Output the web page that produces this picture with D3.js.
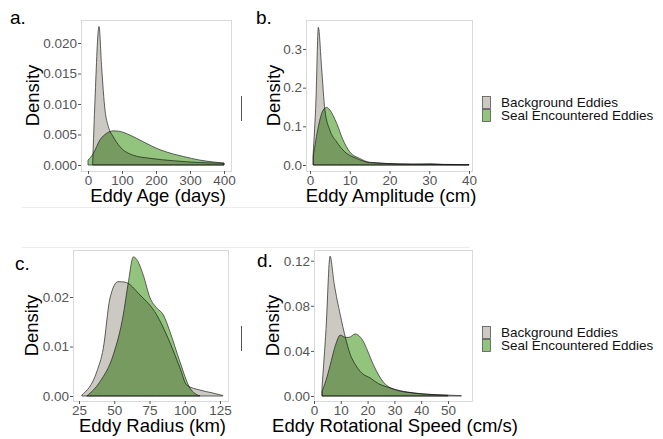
<!DOCTYPE html>
<html>
<head>
<meta charset="utf-8">
<script src="https://cdn.jsdelivr.net/npm/d3@7"></script>
<style>
  body { margin: 0; background: #fff; }
  svg { display: block; font-family: "Liberation Sans", Arial, sans-serif; }
  .tick text { fill: #555; font-size: 13.5px; }
  .tick line { stroke: #555; }
  .domain { display: none; }
  .seal { mix-blend-mode: multiply; }
</style>
</head>
<body>
<div id="chart"></div>
<script>
// (density curves, x value + density)
const ageX        = [13.7, 20.6, 32.4, 40, 50, 59.8, 74.4, 94, 133, 182, 251, 329, 400];
const ageBack     = [0.0002, 0.0107, 0.0227, 0.0161, 0.009, 0.0063, 0.0046, 0.003, 0.0016, 0.0011, 0.0007, 0.0004, 0.0003];
const ageSealX    = [0, 15.7, 35, 55, 74, 94, 123.5, 162.6, 211.8, 251, 280, 329, 368, 400];
const ageSeal     = [0.0008, 0.0019, 0.0041, 0.0052, 0.0056, 0.0055, 0.0049, 0.0038, 0.0025, 0.0018, 0.0014, 0.0008, 0.0005, 0.0003];

const ampX        = [0.8, 1.5, 2.1, 2.9, 3.75, 5, 6.7, 8.75, 11.7, 15, 21.7, 30, 40];
const ampBack     = [0.03, 0.168, 0.356, 0.254, 0.142, 0.09, 0.06, 0.034, 0.017, 0.006, 0.003, 0.002, 0.001];
const ampSealX    = [0.8, 2.1, 3.3, 4.2, 5, 6.7, 8.3, 10, 12.5, 15, 16.7, 19.2, 25.8, 30.4, 34, 40];
const ampSeal     = [0.021, 0.099, 0.142, 0.149, 0.142, 0.108, 0.065, 0.034, 0.017, 0.007, 0.006, 0.004, 0.002, 0.003, 0.001, 0.0005];

const radX        = [27, 37.6, 42.2, 47, 52.7, 57.6, 68.3, 80.1, 87.2, 96.6, 101.4, 110.8, 120, 127];
const radBack     = [0.0002, 0.0049, 0.0096, 0.0198, 0.0231, 0.023, 0.0204, 0.0164, 0.0123, 0.0057, 0.0022, 0.0012, 0.0006, 0.0001];
const radSealX    = [30.5, 39.9, 49.3, 56.4, 60, 63.5, 65.9, 70.6, 75.4, 80.1, 84.8, 89.5, 96.6, 103.7, 110.8];
const radSeal     = [0, 0.0029, 0.0083, 0.0164, 0.023, 0.0281, 0.0276, 0.0244, 0.0198, 0.0178, 0.0164, 0.013, 0.0069, 0.0016, 0];

const rotX        = [3, 4.5, 6, 7.5, 9.8, 11.7, 13.5, 15.4, 18, 21, 24, 27.3, 33.5, 40, 48, 55];
const rotBack     = [0.008, 0.06, 0.124, 0.1, 0.072, 0.052, 0.037, 0.028, 0.02, 0.016, 0.011, 0.008, 0.004, 0.002, 0.001, 0.0003];
const rotSealX    = [3, 4.5, 6, 8, 9.8, 11.7, 13, 15.4, 17, 18.5, 20, 22.3, 26, 31, 36, 42, 50];
const rotSeal     = [0.004, 0.014, 0.027, 0.045, 0.054, 0.052, 0.052, 0.055, 0.053, 0.048, 0.04, 0.027, 0.012, 0.005, 0.003, 0.0015, 0.0005];

const legendLabels = ["Background Eddies", "Seal Encountered Eddies"];
const fillBack = "#ccc9c3", fillSeal = "#93c47e";

const width = 663, height = 439;

const panels = [
  { tag: "a.", title: "Eddy Age (days)", box: [81, 20, 231, 171],
    xDom: [0, 400], xRng: [88, 224], xTicks: [0, 100, 200, 300, 400],
    yDom: [0, 0.02], yRng: [165, 43], yTicks: [0, 0.005, 0.01, 0.015, 0.02], yFmt: ".3f",
    back: [ageX, ageBack], seal: [ageSealX, ageSeal], tagPos: [10, 24], yTitleX: 39 },
  { tag: "b.", title: "Eddy Amplitude (cm)", box: [306, 20, 472, 171],
    xDom: [0, 40], xRng: [310, 469], xTicks: [0, 10, 20, 30, 40],
    yDom: [0, 0.3], yRng: [165, 49], yTicks: [0, 0.1, 0.2, 0.3], yFmt: ".1f",
    back: [ampX, ampBack], seal: [ampSealX, ampSeal], tagPos: [256, 24], yTitleX: 280 },
  { tag: "c.", title: "Eddy Radius (km)", box: [73, 250, 228, 401],
    xDom: [25, 125], xRng: [79, 220], xTicks: [25, 50, 75, 100, 125],
    yDom: [0, 0.02], yRng: [396, 297], yTicks: [0, 0.01, 0.02], yFmt: ".2f",
    back: [radX, radBack], seal: [radSealX, radSeal], tagPos: [15, 270], yTitleX: 38 },
  { tag: "d.", title: "Eddy Rotational Speed (cm/s)", box: [314, 250, 472, 401],
    xDom: [0, 50], xRng: [314, 448], xTicks: [0, 10, 20, 30, 40, 50],
    yDom: [0, 0.12], yRng: [396, 260.7], yTicks: [0, 0.04, 0.08, 0.12], yFmt: ".2f",
    back: [rotX, rotBack], seal: [rotSealX, rotSeal], tagPos: [257, 267], yTitleX: 279 }
];

const svg = d3.select("#chart").append("svg")
  .attr("width", width)
  .attr("height", height);

// faint separators from the original figure
svg.append("line").attr("x1", 22).attr("x2", 470).attr("y1", 207.5).attr("y2", 207.5)
  .attr("stroke", "#ececec");
svg.append("line").attr("x1", 22).attr("x2", 470).attr("y1", 247.5).attr("y2", 247.5)
  .attr("stroke", "#ececec");

panels.forEach(p => {
  const [x0, y0, x1, y1] = p.box;
  const x = d3.scaleLinear().domain(p.xDom).range(p.xRng);
  const y = d3.scaleLinear().domain(p.yDom).range(p.yRng);
  const g = svg.append("g");

  const clipId = "clip" + p.tag[0];
  g.append("clipPath").attr("id", clipId)
    .append("rect").attr("x", x0).attr("y", y0).attr("width", x1 - x0).attr("height", y1 - y0);

  const area = d3.area()
    .x(d => x(d[0]))
    .y0(y(0))
    .y1(d => y(d[1]))
    .curve(d3.curveMonotoneX);

  const plot = g.append("g").attr("clip-path", `url(#${clipId})`);
  plot.append("path")
    .datum(d3.zip(p.back[0], p.back[1]))
    .attr("d", area)
    .attr("fill", fillBack)
    .attr("stroke", "#3a3a3a")
    .attr("stroke-width", 0.8);
  plot.append("path")
    .attr("class", "seal")
    .datum(d3.zip(p.seal[0], p.seal[1]))
    .attr("d", area)
    .attr("fill", fillSeal)
    .attr("stroke", "#3a3a3a")
    .attr("stroke-width", 0.8);

  // panel border
  g.append("rect")
    .attr("x", x0 + 0.5).attr("y", y0 + 0.5)
    .attr("width", x1 - x0).attr("height", y1 - y0)
    .attr("fill", "none").attr("stroke", "#d9d9d9");

  g.append("g")
    .attr("transform", `translate(0,${y1})`)
    .call(d3.axisBottom(x).tickValues(p.xTicks).tickSize(3).tickPadding(1).tickFormat(d3.format("d")));
  g.append("g")
    .attr("transform", `translate(${x0},0)`)
    .call(d3.axisLeft(y).tickValues(p.yTicks).tickSize(3).tickPadding(1).tickFormat(d3.format(p.yFmt)));

  g.append("text")
    .attr("x", (x0 + x1) / 2 + 2)
    .attr("y", y1 + 31)
    .attr("text-anchor", "middle")
    .attr("font-size", 18.5)
    .attr("fill", "#000")
    .text(p.title);

  g.append("text")
    .attr("transform", `translate(${p.yTitleX},${(y0 + y1) / 2})rotate(-90)`)
    .attr("text-anchor", "middle")
    .attr("font-size", 18.5)
    .attr("fill", "#000")
    .text("Density");

  g.append("text")
    .attr("x", p.tagPos[0])
    .attr("y", p.tagPos[1])
    .attr("font-size", 19)
    .attr("fill", "#000")
    .text(p.tag);
});

// legends (right column) and the clipped key stubs
[[96, 241.5], [326, 241.5]].forEach(([top, stubX]) => {
  svg.append("line")
    .attr("x1", stubX).attr("x2", stubX)
    .attr("y1", top).attr("y2", top + 25)
    .attr("stroke", "#555").attr("stroke-width", 1);

  const lg = svg.append("g").attr("transform", `translate(482,${top})`);
  lg.selectAll("rect")
    .data(legendLabels)
    .join("rect")
    .attr("x", 0.5)
    .attr("y", (d, i) => i * 13 + 0.5)
    .attr("width", 8)
    .attr("height", 12)
    .attr("fill", (d, i) => i === 0 ? fillBack : fillSeal)
    .attr("stroke", "#555")
    .attr("stroke-width", 0.8);
  lg.selectAll("text")
    .data(legendLabels)
    .join("text")
    .attr("x", 19)
    .attr("y", (d, i) => i * 12.5 + 11)
    .attr("font-size", 13.5)
    .attr("fill", "#111")
    .text(d => d);
});
</script>
</body>
</html>
